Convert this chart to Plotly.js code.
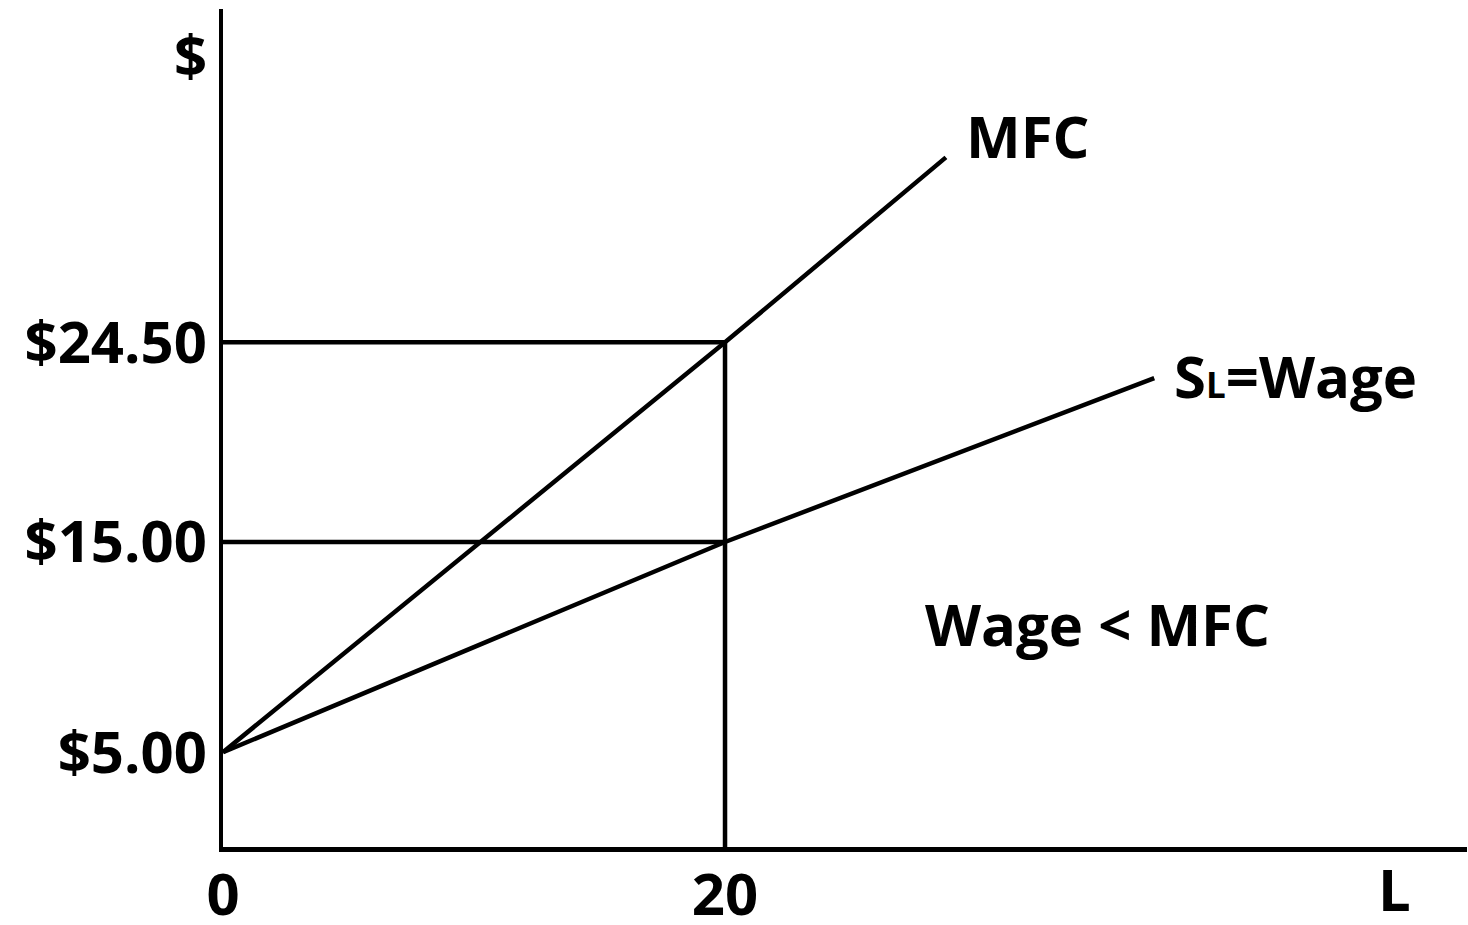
<!DOCTYPE html>
<html>
<head>
<meta charset="utf-8">
<script src="https://cdn.plot.ly/plotly-3.0.1.min.js"></script>
<style>
  html, body { margin: 0; padding: 0; background: #ffffff; }
  #chart { width: 1468px; height: 925px; }
</style>
</head>
<body>
<div id="chart"></div>
<script>
// Labor quantity (L) and dollar values
const mfcL = [0, 20, 28.8];
const mfcValue = [5, 24.5, 33.3];

const supplyL = [0, 20, 37.1];
const supplyValue = [5, 15, 22.8];

const refLevelsL = [0, 20];
const mfcAt20 = 24.5;
const wageAt20 = 15;
const quantity = 20;

const yTickVals = [5, 15, 24.5];
const yTickText = ["$5.00", "$15.00", "$24.50"];
const xTickVals = [0, 20];
const xTickText = ["0", "20"];

const FONT = "Open Sans, Noto Sans, Arial, sans-serif";
const lineStyle = { color: "#000000", width: 4.5 };

const traces = [
  { x: mfcL, y: mfcValue, mode: "lines", line: lineStyle, hoverinfo: "skip" },
  { x: supplyL, y: supplyValue, mode: "lines", line: lineStyle, hoverinfo: "skip" },
  { x: refLevelsL, y: [mfcAt20, mfcAt20], mode: "lines", line: lineStyle, hoverinfo: "skip" },
  { x: refLevelsL, y: [wageAt20, wageAt20], mode: "lines", line: lineStyle, hoverinfo: "skip" },
  { x: [quantity, quantity], y: [0, mfcAt20], mode: "lines", line: lineStyle, hoverinfo: "skip" }
];

const labelFont = { family: FONT, size: 58, color: "#000000", weight: 700 };

const layout = {
  width: 1468,
  height: 925,
  margin: { l: 223, r: 1, t: 9, b: 78 },
  paper_bgcolor: "#ffffff",
  plot_bgcolor: "#ffffff",
  showlegend: false,
  xaxis: {
    range: [0, 49.56],
    showgrid: false,
    zeroline: false,
    showline: true,
    linecolor: "#000000",
    linewidth: 4.5,
    ticks: "",
    tickmode: "array",
    tickvals: xTickVals,
    ticktext: xTickText,
    tickfont: labelFont,
    ticklabelstandoff: -6,
    fixedrange: true
  },
  yaxis: {
    range: [0.49, 40.36],
    showgrid: false,
    zeroline: false,
    showline: true,
    linecolor: "#000000",
    linewidth: 4.5,
    ticks: "",
    tickmode: "array",
    tickvals: yTickVals,
    ticktext: yTickText,
    tickfont: labelFont,
    fixedrange: true
  },
  annotations: [
    { xref: "paper", yref: "paper", x: -0.0265, y: 0.9463, text: "$", showarrow: false,
      xanchor: "center", yanchor: "middle", font: labelFont },
    { xref: "paper", yref: "paper", x: 0.9421, y: -0.0500, text: "L", showarrow: false,
      xanchor: "center", yanchor: "middle", font: labelFont },
    { xref: "x", yref: "y", x: 32.07, y: 34.36, text: "MFC", showarrow: false,
      xanchor: "center", yanchor: "middle", font: labelFont },
    { xref: "x", yref: "y", x: 42.73, y: 22.94,
      text: "S<span style=\"font-size:35px\">L</span>=Wage", showarrow: false,
      xanchor: "center", yanchor: "middle", font: labelFont },
    { xref: "x", yref: "y", x: 34.82, y: 11.11, text: "Wage &lt; MFC", showarrow: false,
      xanchor: "center", yanchor: "middle", font: labelFont }
  ]
};

Plotly.newPlot("chart", traces, layout, { staticPlot: true, displayModeBar: false });
</script>
</body>
</html>
